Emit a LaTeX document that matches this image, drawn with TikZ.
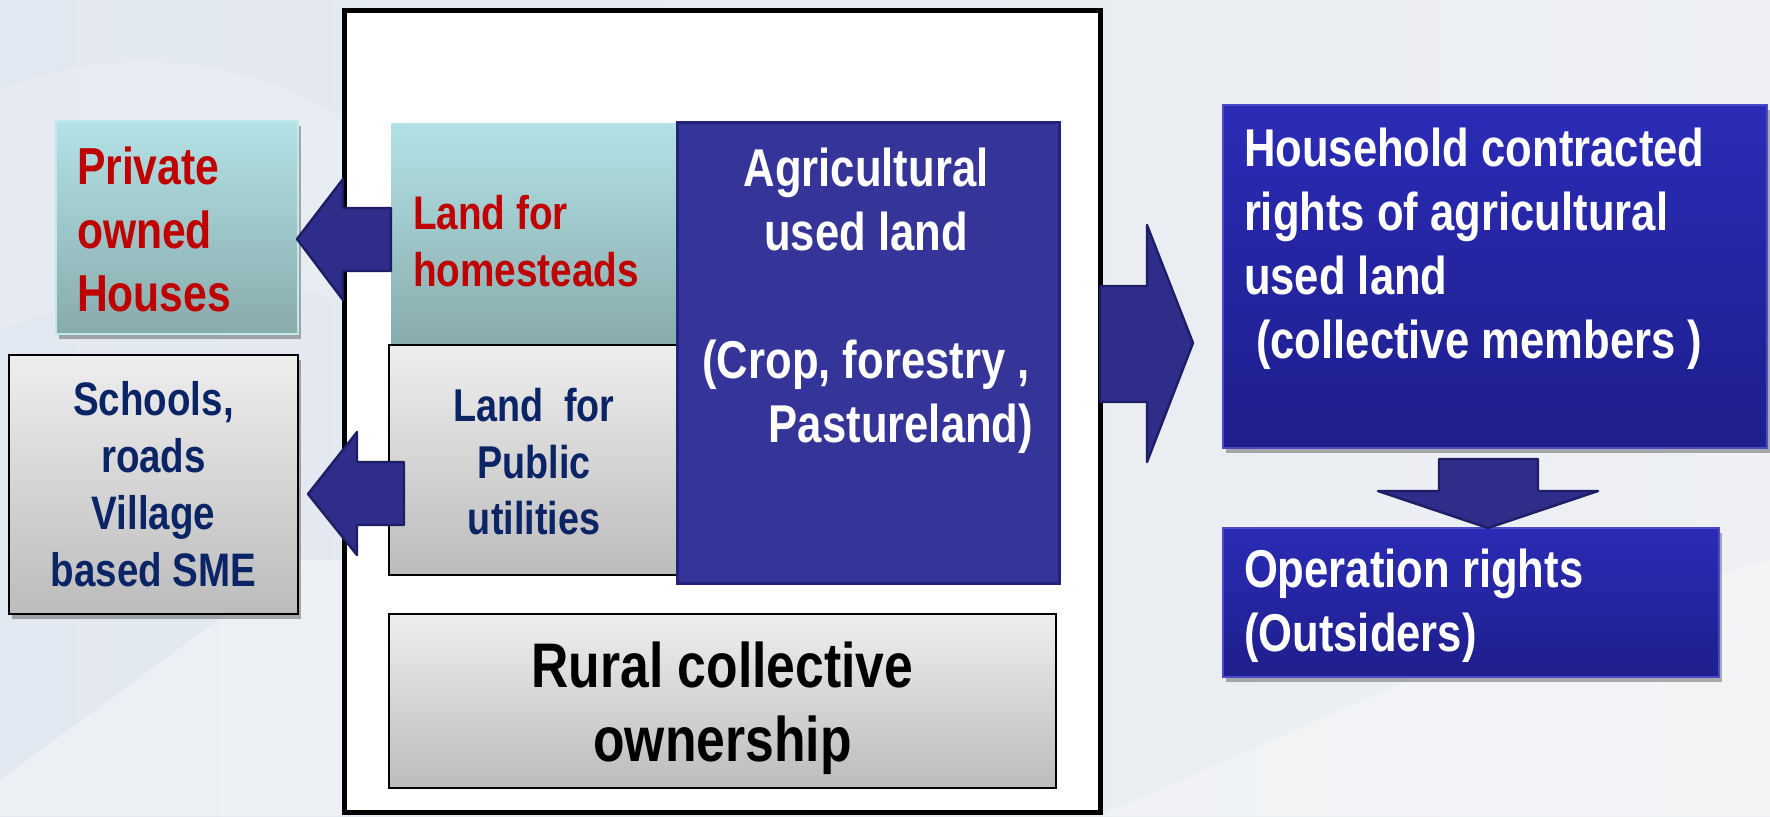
\documentclass[tikz,border=0pt]{standalone}
\usepackage{fontspec}
\setmainfont{Liberation Sans}[FakeStretch=0.82]
\usetikzlibrary{calc,shadows}
\definecolor{txtred}{HTML}{C00000}
\definecolor{txtnavy}{HTML}{0B2466}
\definecolor{cyantop}{HTML}{B3E2E6}
\definecolor{cyanbot}{HTML}{88ABAC}
\definecolor{graytop}{HTML}{EEEEEE}
\definecolor{graybot}{HTML}{BCBCBC}
\definecolor{agrifill}{HTML}{343499}
\definecolor{agriline}{HTML}{23237A}
\definecolor{hhtop}{HTML}{2B2BB6}
\definecolor{hhbot}{HTML}{1E1E8C}
\definecolor{hhedge}{HTML}{4A4AC8}
\definecolor{arrfill}{HTML}{2E2E8A}
\definecolor{arrline}{HTML}{1E1E66}
\definecolor{bgA}{HTML}{E2E8F1}
\definecolor{bgB}{HTML}{EEF0F3}
\begin{document}
\begin{tikzpicture}[x=0.5pt,y=-0.5pt,
  box/.style={rectangle, inner sep=0pt, outer sep=0pt, anchor=north west},
  cyanbox/.style={box, top color=cyantop, bottom color=cyanbot},
  graybox/.style={box, top color=graytop, bottom color=graybot, draw=black, line width=1pt},
  bluebox/.style={box, top color=hhtop, bottom color=hhbot, draw=hhedge, line width=1pt},
  softshadow/.style={drop shadow={shadow xshift=1.5pt, shadow yshift=-2.5pt, opacity=0.3, fill=black}},
  blk/.style={fill=arrfill, draw=arrline, line width=1.2pt, line join=round},
  txt/.style={inner sep=0pt, outer sep=0pt},
]
\useasboundingbox (0,0) rectangle (1770,816);
% background
\shade[left color=bgA, right color=bgB] (0,0) rectangle (1770,816);
\fill[white, opacity=0.35] (0,780) -- (300,560) -- (344,560) -- (344,816) -- (0,816) -- cycle;
\fill[white, opacity=0.30] (1100,816) -- (1500,640) -- (1770,560) -- (1770,816) -- cycle;
\fill[white, opacity=0.15] (0,90) .. controls (120,40) and (250,60) .. (344,120) -- (344,300) .. controls (200,260) and (80,300) .. (0,330) -- cycle;

% outer frame
\node[box, draw=black, line width=2.5pt, fill=white, minimum width=378pt, minimum height=401pt] (outer) at (344,10) {};

% left boxes
\node[cyanbox, softshadow, draw=cyantop!80!white, line width=0.6pt, minimum width=121pt, minimum height=106.5pt] (priv) at (56,121) {};
\node[graybox, softshadow, minimum width=144.5pt, minimum height=129.5pt] (schools) at (9,355) {};

% inner boxes
\node[cyanbox, minimum width=143pt, minimum height=111pt] (home) at (391,123) {};
\node[graybox, minimum width=145pt, minimum height=115pt] (util) at (389,345) {};
\node[box, fill=agrifill, draw=agriline, line width=1.5pt, minimum width=191pt, minimum height=230.5pt] (agri) at (677,122) {};
\node[graybox, minimum width=333.5pt, minimum height=87pt] (rural) at (389,614) {};

% right boxes
\node[bluebox, softshadow, minimum width=272pt, minimum height=171.5pt] (house) at (1223,105) {};
\node[bluebox, softshadow, minimum width=248pt, minimum height=74.5pt] (op) at (1223,528) {};

% texts
\node[txt, anchor=west, align=left, text=txtred, font=\bfseries\fontsize{26}{31.75}\selectfont] (privT) at ($(priv.west)+(21,2)$) {Private\\owned\\Houses};
\node[txt, align=center, text=txtnavy, font=\bfseries\fontsize{23.5}{28.5}\selectfont] (schoolsT) at (schools.center) {Schools,\\roads\\Village\\based SME};
\node[txt, anchor=west, align=left, text=txtred, font=\bfseries\fontsize{23.6}{28.5}\selectfont] (homeT) at ($(home.west)+(22,7.5)$) {Land for\\homesteads};
\node[txt, align=center, text=txtnavy, font=\bfseries\fontsize{23}{28.25}\selectfont] (utilT) at ($(util.center)+(0,2)$) {Land\ \ for\\Public\\utilities};
\node[txt, anchor=north, align=center, text=white, font=\bfseries\fontsize{26.6}{32}\selectfont] (agriT) at ($(agri.north)+(-2,26)$) {Agricultural\\used land\\[32pt](Crop, forestry ,\\\hspace*{35pt}Pastureland)};
\node[txt, align=center, text=black, font=\bfseries\fontsize{31.5}{37}\selectfont] (ruralT) at ($(rural.center)+(0,7)$) {Rural collective\\ownership};
\node[txt, anchor=north west, align=left, text=white, font=\bfseries\fontsize{26.6}{32}\selectfont] (houseT) at ($(house.north west)+(21,23)$) {Household contracted\\rights of agricultural\\used land\\\ (collective members )};
\node[txt, anchor=west, align=left, text=white, font=\bfseries\fontsize{26.6}{32}\selectfont] (opT) at ($(op.west)+(21,3)$) {Operation rights\\(Outsiders)};

% block arrows
\draw[blk] ($(home.west)+(0,-26)$) -- ++(-48,0) -- ++(0,-29) -- ++(-46,60) -- ++(46,61) -- ++(0,-29) -- ++(48,0) -- cycle;
\draw[blk] ($(util.west)+(15,2)$) -- ++(-47,0) -- ++(0,-30) -- ++(-49,62) -- ++(49,61) -- ++(0,-30) -- ++(47,0) -- cycle;
\draw[blk] ($(outer.east)+(0,-125)$) -- ++(47,0) -- ++(0,-61) -- ++(46,118) -- ++(-46,119) -- ++(0,-60) -- ++(-47,0) -- cycle;
\draw[blk] ($(house.south)+(-56,11)$) -- ++(99,0) -- ++(0,32) -- ++(60,0) -- ++(-110,37) -- ++(-110,-37) -- ++(61,0) -- cycle;
\end{tikzpicture}
\end{document}
